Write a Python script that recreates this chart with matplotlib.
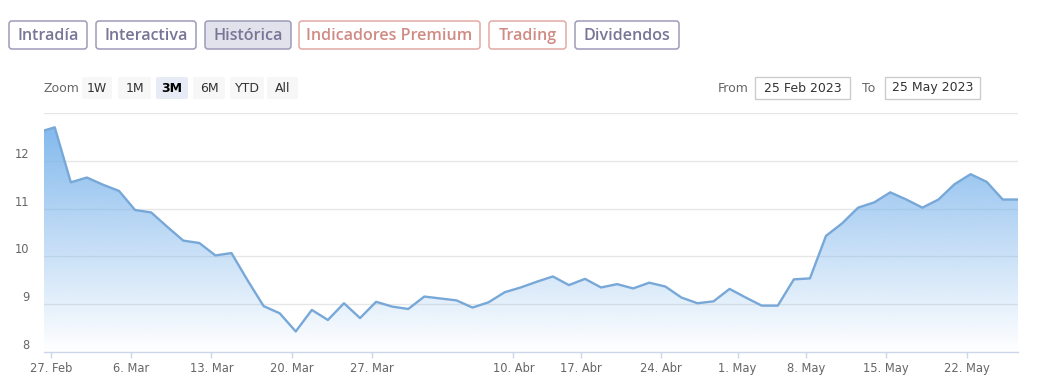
import numpy as np
import pandas as pd
import matplotlib.pyplot as plt
from matplotlib.patches import FancyBboxPatch, Polygon

# trading days shown (Spanish market holidays removed)
holidays = ['2023-04-07', '2023-04-10', '2023-05-01']
days = pd.bdate_range('2023-02-24', '2023-05-25')
days = days[~days.isin(pd.to_datetime(holidays))]

prices = [12.60, 12.70, 11.55, 11.65, 11.50, 11.37, 10.97, 10.92, 10.62, 10.33,
          10.28, 10.02, 10.07, 9.50, 8.96, 8.81, 8.43, 8.88, 8.67, 9.02,
          8.71, 9.05, 8.95, 8.90, 9.16, 9.12, 9.08, 8.93, 9.04, 9.25,
          9.35, 9.47, 9.58, 9.40, 9.53, 9.35, 9.42, 9.33, 9.45, 9.37,
          9.14, 9.02, 9.06, 9.32, 9.14, 8.97, 8.97, 9.52, 9.54, 10.43,
          10.69, 11.02, 11.13, 11.34, 11.19, 11.02, 11.19, 11.51, 11.72, 11.56,
          11.19, 11.19]

tick_dates = ['2023-02-27', '2023-03-06', '2023-03-13', '2023-03-20', '2023-03-27',
              '2023-04-10', '2023-04-17', '2023-04-24', '2023-05-01', '2023-05-08',
              '2023-05-15', '2023-05-22']
tick_labels = ['27. Feb', '6. Mar', '13. Mar', '20. Mar', '27. Mar', '10. Abr',
               '17. Abr', '24. Abr', '1. May', '8. May', '15. May', '22. May']
y_ticks = [8, 9, 10, 11, 12]

tabs = ['Intradía', 'Interactiva', 'Histórica', 'Indicadores Premium', 'Trading', 'Dividendos']
zoom_btns = ['1W', '1M', '3M', '6M', 'YTD', 'All']

W, H = 1037, 386
fig = plt.figure(figsize=(W / 100, H / 100), dpi=100)

# background layer in pixel coordinates for the controls
bg = fig.add_axes([0, 0, 1, 1])
bg.set_xlim(0, W)
bg.set_ylim(H, 0)
bg.axis('off')

tab_x = [(9, 87), (96, 196), (205, 291), (299, 480), (489, 566), (575, 679)]
purple_txt, purple_edge = '#787596', '#9d9bb8'
red_txt, red_edge = '#d08b84', '#e2aaa3'
for i, (lab, (x0, x1)) in enumerate(zip(tabs, tab_x)):
    red = lab in ('Indicadores Premium', 'Trading')
    face = '#e2e2ec' if lab == 'Histórica' else 'white'
    bg.add_patch(FancyBboxPatch((x0, 21), x1 - x0, 28, boxstyle='round,pad=0,rounding_size=3',
                                facecolor=face, edgecolor=red_edge if red else purple_edge, lw=1.1))
    bg.text((x0 + x1) / 2, 35.5, lab, ha='center', va='center', fontsize=11.6,
            family='Open Sans', weight='semibold', color=red_txt if red else purple_txt)

bg.text(44, 88, 'Zoom', ha='left', va='center', fontsize=9, color='#666666')
zoom_x = [(82, 112), (118, 151), (156, 188), (193, 225), (230, 264), (267, 298)]
for lab, (x0, x1) in zip(zoom_btns, zoom_x):
    sel = lab == '3M'
    bg.add_patch(FancyBboxPatch((x0, 77), x1 - x0, 22, boxstyle='round,pad=0,rounding_size=2',
                                facecolor='#e6ebf5' if sel else '#f7f7f7', edgecolor='none'))
    bg.text((x0 + x1) / 2, 88, lab, ha='center', va='center', fontsize=9,
            color='#000000' if sel else '#333333', weight='bold' if sel else 'normal')

bg.text(718, 88, 'From', ha='left', va='center', fontsize=9, color='#666666')
bg.add_patch(plt.Rectangle((755, 77), 95, 22, facecolor='white', edgecolor='#cccccc', lw=1))
bg.text(802.5, 88, '25 Feb 2023', ha='center', va='center', fontsize=9, color='#333333')
bg.text(862, 88, 'To', ha='left', va='center', fontsize=9, color='#666666')
bg.add_patch(plt.Rectangle((885, 77), 95, 22, facecolor='white', edgecolor='#cccccc', lw=1))
bg.text(932.5, 88, '25 May 2023', ha='center', va='center', fontsize=9, color='#333333')

# chart
left, right, top, bottom = 44.3, 1018, 113, 352
ax = fig.add_axes([left / W, 1 - bottom / H, (right - left) / W, (bottom - top) / H])
ax.patch.set_alpha(0)

x = np.arange(len(prices))
ymin, ymax = 8, 13
xmin, xmax = 0.35, 60.95

grad = np.zeros((256, 1, 4))
grad[..., :3] = np.array([0x7c, 0xb5, 0xec]) / 255
grad[..., 3] = np.linspace(1, 0, 256).reshape(-1, 1)
im = ax.imshow(grad, extent=[xmin, xmax, ymin, ymax], aspect='auto', origin='upper', zorder=1)
verts = np.vstack([[x[0], ymin], np.column_stack([x, prices]), [x[-1], ymin]])
poly = Polygon(verts, closed=True, facecolor='none', edgecolor='none')
ax.add_patch(poly)
im.set_clip_path(poly)

ax.plot(x, prices, color='#78a8d8', lw=1.7, zorder=3, solid_joinstyle='round')

ax.set_xlim(xmin, xmax)
ax.set_ylim(ymin, ymax)

day_num = days.values.astype('datetime64[D]').astype(float)
tick_num = pd.to_datetime(tick_dates).values.astype('datetime64[D]').astype(float)
tick_pos = np.interp(tick_num, day_num, x) - 0.25
ax.set_xticks(tick_pos)
ax.set_xticklabels(tick_labels)
ax.tick_params(axis='x', length=4.5, width=1, color='#ccd6eb', labelsize=8.3,
               labelcolor='#666666', pad=2.5)

ax.set_yticks(y_ticks)
ax.set_yticklabels([str(v) for v in y_ticks])
ax.tick_params(axis='y', length=0, labelsize=8.3, labelcolor='#666666', pad=11)
for t in ax.get_yticklabels():
    t.set_verticalalignment('bottom')

for v in [9, 10, 11, 12, 13]:
    ax.axhline(v, color='#e6e6e6', lw=1, zorder=0)

for s in ['top', 'right', 'left']:
    ax.spines[s].set_visible(False)
ax.spines['bottom'].set_color('#ccd6eb')
ax.spines['bottom'].set_linewidth(1)

fig.savefig('out.png', dpi=100)
